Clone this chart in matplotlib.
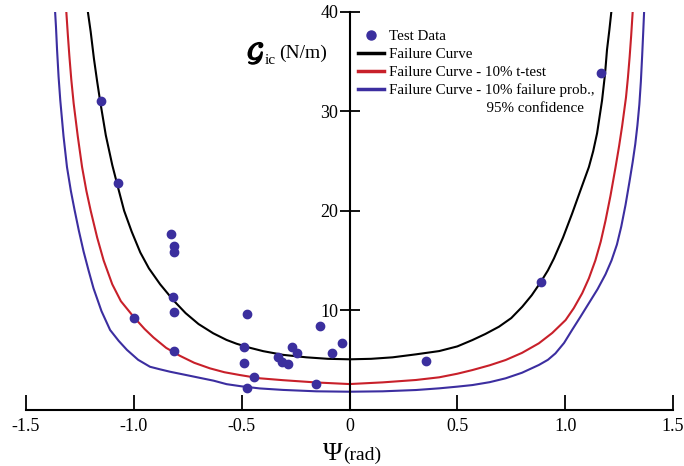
import matplotlib
matplotlib.use("Agg")
import matplotlib.pyplot as plt
import matplotlib.patheffects as pe
from matplotlib.lines import Line2D

plt.rcParams['font.family'] = ['Liberation Serif', 'DejaVu Serif']
plt.rcParams['mathtext.fontset'] = 'stix'

# test data
test_x = [-1.154, -1.073, -1.0, -0.829, -0.814, -0.814, -0.82, -0.814, -0.812,
          -0.473, -0.49, -0.49, -0.444, -0.473, -0.268, -0.242, -0.33, -0.311,
          -0.285, -0.137, -0.083, -0.036, -0.154, 0.357, 0.886, 1.167]
test_y = [31.0, 22.8, 9.24, 17.66, 16.45, 15.8, 11.3, 9.8, 5.9,
          9.57, 6.29, 4.64, 3.3, 2.2, 6.29, 5.72, 5.3, 4.8,
          4.55, 8.43, 5.68, 6.66, 2.6, 4.9, 12.8, 33.9]

# failure curve
fc_x = [-1.213, -1.2, -1.185, -1.17, -1.156, -1.13, -1.10, -1.074, -1.045, -1.01,
        -0.97, -0.93, -0.878, -0.817, -0.76, -0.70, -0.632, -0.57, -0.524, -0.46,
        -0.40, -0.308, -0.2, -0.1, 0.0, 0.1, 0.2, 0.308, 0.416, 0.5,
        0.57, 0.63, 0.693, 0.75, 0.801, 0.845, 0.886, 0.92, 0.948, 0.99,
        1.032, 1.07, 1.11, 1.13, 1.148, 1.171, 1.185, 1.194, 1.205, 1.214]
fc_y = [40.0, 38.0, 35.3, 33.0, 31.0, 27.6, 24.6, 22.4, 20.0, 17.9,
        15.8, 14.2, 12.6, 11.0, 9.7, 8.6, 7.67, 7.0, 6.62, 6.2,
        5.87, 5.5, 5.25, 5.1, 5.05, 5.1, 5.25, 5.55, 5.88, 6.35,
        6.99, 7.6, 8.33, 9.2, 10.34, 11.5, 12.8, 14.0, 15.2, 17.3,
        19.7, 22.0, 24.4, 26.0, 27.8, 31.1, 33.8, 36.2, 38.2, 40.0]

# failure curve - 10% t-test
tt_x = [-1.313, -1.306, -1.299, -1.29, -1.279, -1.26, -1.24, -1.22, -1.2, -1.17,
        -1.14, -1.10, -1.06, -1.0, -0.95, -0.909, -0.85, -0.786, -0.72, -0.647,
        -0.58, -0.509, -0.416, -0.308, -0.154, 0.0, 0.154, 0.308, 0.416, 0.5,
        0.57, 0.65, 0.724, 0.8, 0.878, 0.94, 1.002, 1.04, 1.079, 1.11,
        1.14, 1.165, 1.187, 1.21, 1.233, 1.25, 1.264, 1.282, 1.291, 1.299,
        1.306, 1.313]
tt_y = [40.0, 37.7, 35.6, 33.2, 30.8, 27.5, 24.4, 22.0, 20.0, 17.3,
        15.0, 12.6, 10.9, 9.3, 8.1, 7.25, 6.2, 5.4, 4.7, 4.14,
        3.75, 3.47, 3.14, 2.95, 2.72, 2.56, 2.73, 2.97, 3.24, 3.6,
        3.97, 4.45, 4.98, 5.7, 6.66, 7.7, 9.0, 10.2, 11.7, 13.2,
        15.0, 16.9, 19.0, 21.5, 24.3, 26.5, 28.5, 31.4, 33.4, 35.5,
        37.6, 40.0]

# failure curve - 10% failure prob., 95% confidence
fp_x = [-1.365, -1.361, -1.356, -1.349, -1.341, -1.326, -1.31, -1.292, -1.275, -1.255,
        -1.233, -1.21, -1.187, -1.15, -1.11, -1.07, -1.032, -0.98, -0.925, -0.88,
        -0.832, -0.76, -0.693, -0.63, -0.57, -0.5, -0.416, -0.308, -0.154, 0.0,
        0.154, 0.308, 0.416, 0.5, 0.57, 0.65, 0.724, 0.8, 0.878, 0.92,
        0.955, 0.995, 1.032, 1.07, 1.11, 1.15, 1.187, 1.215, 1.24, 1.26,
        1.28, 1.298, 1.313, 1.325, 1.335, 1.344, 1.351, 1.357, 1.362, 1.366]
fp_y = [40.0, 38.5, 36.2, 33.5, 31.1, 27.5, 24.4, 22.0, 20.1, 18.0,
        15.9, 14.0, 12.2, 9.9, 8.0, 6.9, 6.0, 5.0, 4.3, 4.05,
        3.8, 3.48, 3.18, 2.9, 2.55, 2.33, 2.12, 1.97, 1.83, 1.79,
        1.83, 1.96, 2.13, 2.3, 2.46, 2.75, 3.14, 3.7, 4.48, 5.0,
        5.65, 6.7, 8.0, 9.3, 10.7, 12.1, 13.6, 15.0, 16.6, 18.4,
        20.6, 22.9, 24.9, 26.7, 28.6, 30.7, 33.0, 35.6, 38.0, 40.0]

x_ticks = [-1.5, -1.0, -0.5, 0, 0.5, 1.0, 1.5]
x_labels = ['-1.5', '-1.0', '-0.5', '0', '0.5', '1.0', '1.5']
y_ticks = [10, 20, 30, 40]

dot_col = '#3b2f9e'
red_col = '#c8202a'
blue_col = '#3c2ea0'

fig = plt.figure(figsize=(6.84, 4.66), dpi=100)
ax = fig.add_axes([26 / 684, 1 - 409.5 / 466, 647 / 684, 397.5 / 466])

ax.plot(fc_x, fc_y, color='black', lw=1.5)
ax.plot(tt_x, tt_y, color=red_col, lw=1.5)
ax.plot(fp_x, fp_y, color=blue_col, lw=1.5)
ax.scatter(test_x, test_y, s=36, color=dot_col, zorder=5, clip_on=False)

ax.set_xlim(-1.5, 1.5)
ax.set_ylim(0, 40)

for s in ['top', 'right']:
    ax.spines[s].set_visible(False)
ax.spines['left'].set_position(('data', 0))
ax.spines['left'].set_linewidth(1.5)
ax.spines['bottom'].set_linewidth(1.5)

ax.set_xticks(x_ticks)
ax.set_xticklabels(x_labels)
ax.set_yticks(y_ticks)
ax.tick_params(axis='x', direction='in', length=11, width=1.3, pad=6, labelsize=13)
ax.tick_params(axis='y', direction='inout', length=14, width=1.3, pad=1, labelsize=13)

# y label: script G with "ic" subscript, then units
ax.text(-0.474, 35.1, r'$\mathcal{G}$', fontsize=19, va='baseline', ha='left',
        path_effects=[pe.withStroke(linewidth=1.2, foreground='black')])
ax.text(-0.393, 34.8, 'ic', fontsize=11, va='baseline', ha='left')
ax.text(-0.328, 35.4, '(N/m)', fontsize=14, va='baseline', ha='left')

# x label
ax.text(-0.032, -5.05, 'Ψ', fontsize=19, va='baseline', ha='right')
ax.text(-0.030, -5.05, '(rad)', fontsize=14, va='baseline', ha='left')

handles = [
    Line2D([], [], marker='o', ls='none', color=dot_col, markersize=6.5),
    Line2D([], [], color='black', lw=2.5),
    Line2D([], [], color=red_col, lw=2.5),
    Line2D([], [], color=blue_col, lw=2.5),
    Line2D([], [], color='none'),
]
labels = ['Test Data', 'Failure Curve', 'Failure Curve - 10% t-test',
          'Failure Curve - 10% failure prob.,',
          ' ' * 26 + '95% confidence']
ax.legend(handles, labels, loc='upper left', bbox_to_anchor=(358 / 684, 1 - 29.5 / 466),
          bbox_transform=fig.transFigure, frameon=False, fontsize=10.8,
          borderpad=0, borderaxespad=0, handlelength=1.75, handletextpad=0.3,
          labelspacing=0.3)

fig.savefig('out.png', dpi=100)
